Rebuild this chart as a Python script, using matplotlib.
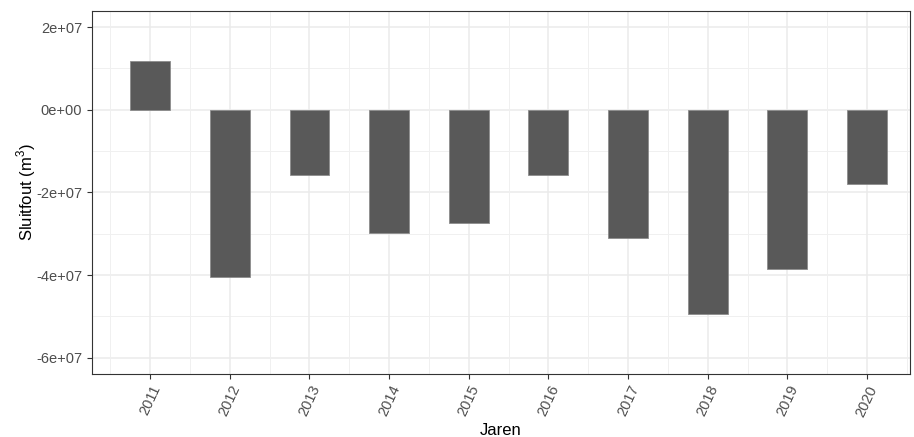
import matplotlib.pyplot as plt

plt.rcParams['font.family'] = ['Liberation Sans', 'DejaVu Sans']
plt.rcParams['mathtext.fontset'] = 'custom'
plt.rcParams['mathtext.rm'] = 'Liberation Sans'

jaren = [2011, 2012, 2013, 2014, 2015, 2016, 2017, 2018, 2019, 2020]
sluitfout = [1.19e7, -4.04e7, -1.57e7, -2.99e7, -2.73e7, -1.57e7, -3.11e7, -4.95e7, -3.85e7, -1.79e7]

fig = plt.figure(figsize=(9.14, 4.37), dpi=100)
ax = fig.add_axes([92 / 914, 1 - 373.5 / 437, (910 - 92) / 914, (373.5 - 10.5) / 437])

# grid: major + minor, theme_bw look
for y in [-6e7, -4e7, -2e7, 0, 2e7]:
    ax.axhline(y, color='#EBEBEB', lw=1.1, zorder=0)
for y in [-5e7, -3e7, -1e7, 1e7]:
    ax.axhline(y, color='#F0F0F0', lw=0.7, zorder=0)
for x in jaren:
    ax.axvline(x, color='#EBEBEB', lw=1.1, zorder=0)
for x in [j - 0.5 for j in jaren] + [2020.5]:
    ax.axvline(x, color='#F0F0F0', lw=0.7, zorder=0)

ax.bar(jaren, sluitfout, width=0.5, color='#595959', edgecolor='#8C8C8C', lw=0.6, zorder=2)

ax.set_xlim(2010.27, 2020.54)
ax.set_ylim(-6.38e7, 2.4e7)
ax.set_yticks([-6e7, -4e7, -2e7, 0, 2e7])
ax.set_yticklabels(['-6e+07', '-4e+07', '-2e+07', '0e+00', '2e+07'])
ax.set_xticks(jaren)
ax.set_xticklabels([str(j) for j in jaren], rotation=65)

ax.tick_params(colors='#333333', labelcolor='#4D4D4D', labelsize=10.5, length=3.5, width=0.8)
for s in ax.spines.values():
    s.set_color('#333333')
    s.set_linewidth(0.8)

ax.set_xlabel('Jaren', fontsize=12, labelpad=3)
ax.set_ylabel('Sluitfout (m$^3$)', fontsize=12, labelpad=-1)

fig.savefig('out.png', dpi=100)
